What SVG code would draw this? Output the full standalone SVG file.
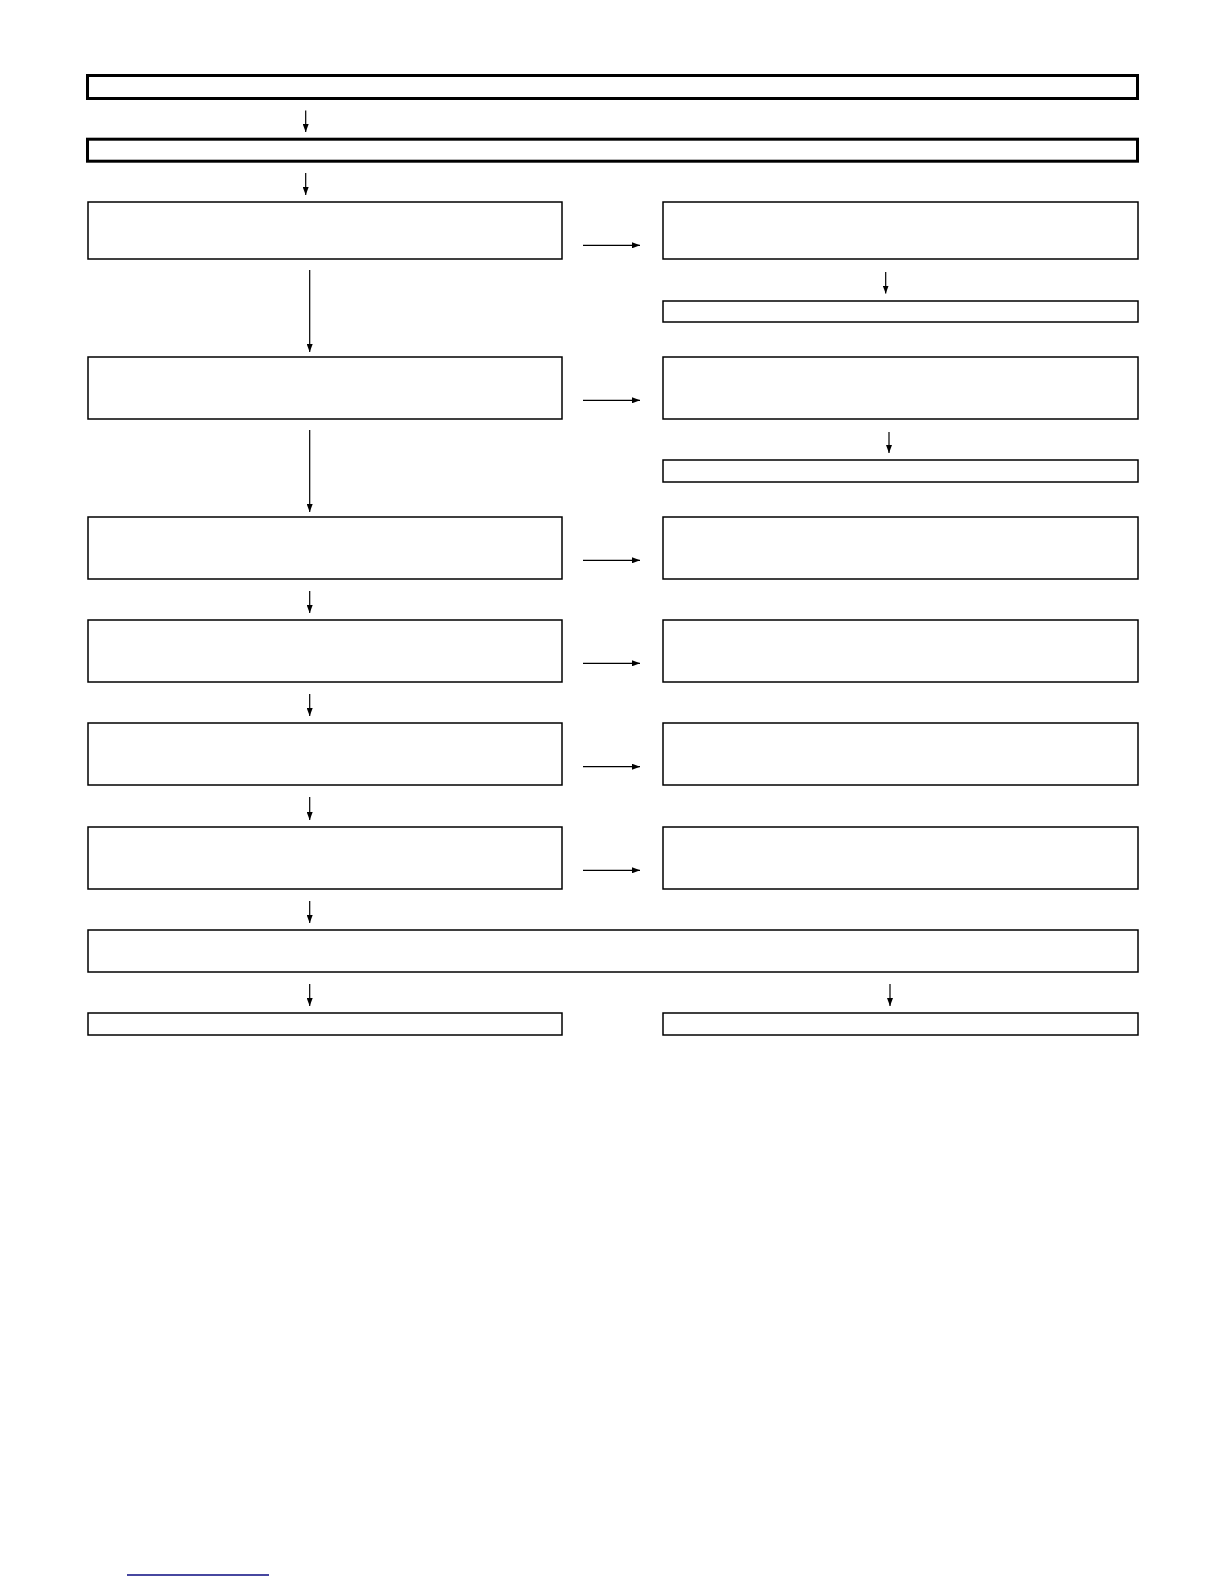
<svg xmlns="http://www.w3.org/2000/svg" width="1224" height="1584" viewBox="0 0 1224 1584">
<defs>
<style>
.thick{fill:#fff;stroke:#000;stroke-width:3}
.box{fill:#fff;stroke:#000;stroke-width:1.5}
.c{stroke:#000;stroke-width:1.2;fill:none}
</style>
<marker id="ah" markerUnits="userSpaceOnUse" markerWidth="9" markerHeight="6" refX="8" refY="3" orient="auto" viewBox="0 0 9 6">
<path d="M0,0 L8,3 L0,6 Z" fill="#000"/>
</marker>
</defs>
<rect width="1224" height="1584" fill="#fff"/>
<g id="n1"><rect class="thick" x="87.5" y="75.5" width="1050" height="23"/></g>
<g id="n2"><rect class="thick" x="87.5" y="139.2" width="1050" height="22"/></g>
<g id="nA"><rect class="box" x="88" y="202" width="474" height="57"/></g>
<g id="nA2"><rect class="box" x="663" y="202" width="475" height="57"/></g>
<g id="nA3"><rect class="box" x="663" y="301" width="475" height="21"/></g>
<g id="nB"><rect class="box" x="88" y="357" width="474" height="62"/></g>
<g id="nB2"><rect class="box" x="663" y="357" width="475" height="62"/></g>
<g id="nB3"><rect class="box" x="663" y="460" width="475" height="22"/></g>
<g id="nC"><rect class="box" x="88" y="517" width="474" height="62"/></g>
<g id="nC2"><rect class="box" x="663" y="517" width="475" height="62"/></g>
<g id="nD"><rect class="box" x="88" y="620" width="474" height="62"/></g>
<g id="nD2"><rect class="box" x="663" y="620" width="475" height="62"/></g>
<g id="nE"><rect class="box" x="88" y="723" width="474" height="62"/></g>
<g id="nE2"><rect class="box" x="663" y="723" width="475" height="62"/></g>
<g id="nF"><rect class="box" x="88" y="827" width="474" height="62"/></g>
<g id="nF2"><rect class="box" x="663" y="827" width="475" height="62"/></g>
<g id="nG"><rect class="box" x="88" y="930" width="1050" height="42"/></g>
<g id="nH"><rect class="box" x="88" y="1013" width="474" height="22"/></g>
<g id="nH2"><rect class="box" x="663" y="1013" width="475" height="22"/></g>
<g id="connectors">
<line class="c" x1="305.7" y1="110.5" x2="305.7" y2="132" marker-end="url(#ah)"/>
<line class="c" x1="305.7" y1="173" x2="305.7" y2="195" marker-end="url(#ah)"/>
<line class="c" x1="309.7" y1="270" x2="309.7" y2="352" marker-end="url(#ah)"/>
<line class="c" x1="309.7" y1="430" x2="309.7" y2="512" marker-end="url(#ah)"/>
<line class="c" x1="309.7" y1="591" x2="309.7" y2="613" marker-end="url(#ah)"/>
<line class="c" x1="309.7" y1="694" x2="309.7" y2="716" marker-end="url(#ah)"/>
<line class="c" x1="309.7" y1="797" x2="309.7" y2="820" marker-end="url(#ah)"/>
<line class="c" x1="309.7" y1="901" x2="309.7" y2="923" marker-end="url(#ah)"/>
<line class="c" x1="309.7" y1="984" x2="309.7" y2="1006" marker-end="url(#ah)"/>
<line class="c" x1="885.7" y1="272" x2="885.7" y2="293.5" marker-end="url(#ah)"/>
<line class="c" x1="889" y1="432" x2="889" y2="453" marker-end="url(#ah)"/>
<line class="c" x1="890" y1="984" x2="890" y2="1006" marker-end="url(#ah)"/>
<line class="c" x1="583" y1="245.3" x2="640" y2="245.3" marker-end="url(#ah)"/>
<line class="c" x1="583" y1="400.3" x2="640" y2="400.3" marker-end="url(#ah)"/>
<line class="c" x1="583" y1="560.3" x2="640" y2="560.3" marker-end="url(#ah)"/>
<line class="c" x1="583" y1="663.3" x2="640" y2="663.3" marker-end="url(#ah)"/>
<line class="c" x1="583" y1="766.7" x2="640" y2="766.7" marker-end="url(#ah)"/>
<line class="c" x1="583" y1="870.3" x2="640" y2="870.3" marker-end="url(#ah)"/>
</g>
<line x1="127" y1="1575" x2="269" y2="1575" stroke="#0a0a80" stroke-width="1.3"/>
</svg>
